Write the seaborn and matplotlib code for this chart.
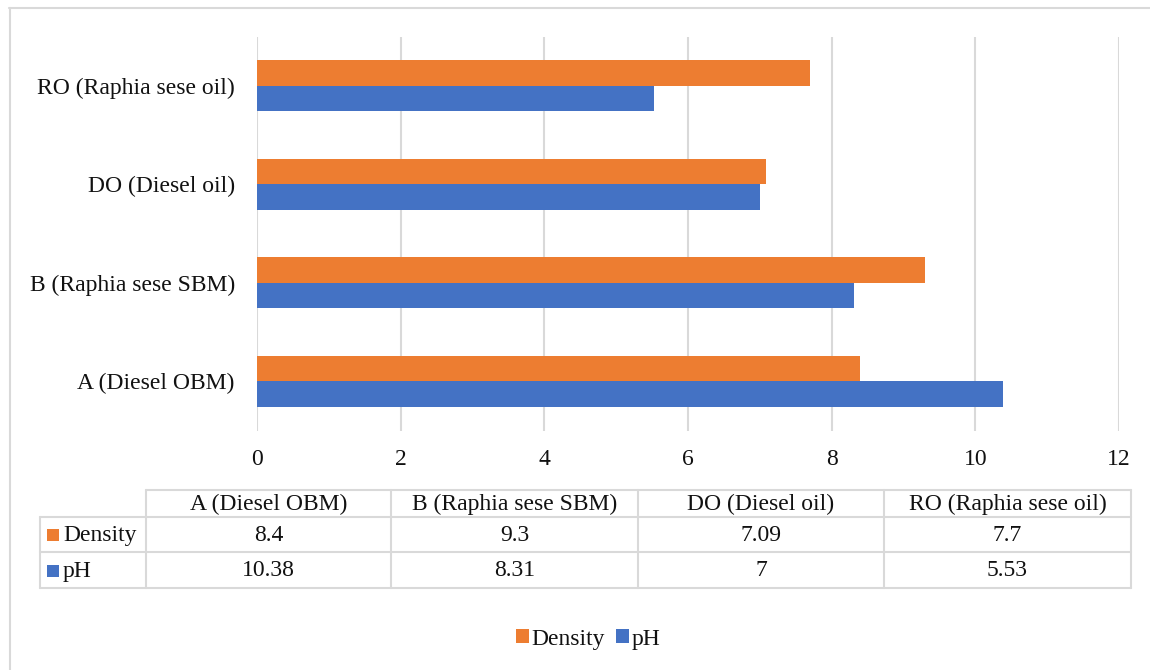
import matplotlib
matplotlib.use("Agg")
import matplotlib.pyplot as plt
import seaborn as sns
import pandas as pd
from matplotlib.patches import Rectangle
from matplotlib.lines import Line2D

categories = ["A (Diesel OBM)", "B (Raphia sese SBM)", "DO (Diesel oil)", "RO (Raphia sese oil)"]
density = [8.4, 9.3, 7.09, 7.7]
ph = [10.38, 8.31, 7, 5.53]
density_labels = ["8.4", "9.3", "7.09", "7.7"]
ph_labels = ["10.38", "8.31", "7", "5.53"]
series = ["Density", "pH"]
colors = {"Density": "#ED7D31", "pH": "#4472C4"}
xticks = [0, 2, 4, 6, 8, 10, 12]

sns.set_theme(style="white")
plt.rcParams["font.family"] = ["Liberation Serif", "DejaVu Serif"]

W, H = 1150, 670
fig = plt.figure(figsize=(W / 100, H / 100), dpi=100)

def fx(px):
    return px / W

def fy(py):
    return 1 - py / H

df = pd.DataFrame({
    "category": categories * 2,
    "value": density + ph,
    "series": ["Density"] * 4 + ["pH"] * 4,
})

fs = 17
tcol = "#111111"

ax = fig.add_axes([fx(257), fy(430.5), fx(1119) - fx(257), (430.5 - 36.5) / H])
sns.barplot(data=df, y="category", x="value", hue="series", order=categories[::-1],
            hue_order=series, palette=colors, orient="h", width=0.52, gap=0,
            saturation=1, ax=ax, legend=False, edgecolor="none", linewidth=0)
ax.set_xlim(0, 12)
ax.set_ylim(3.5, -0.5)
ax.set_xticks(xticks)
ax.set_xticklabels([str(t) for t in xticks])
ax.grid(axis="x", color="#D9D9D9", linewidth=1.5)
ax.grid(axis="y", visible=False)
ax.set_axisbelow(True)
for s in ax.spines.values():
    s.set_visible(False)
ax.set_xlabel("")
ax.set_ylabel("")
ax.tick_params(axis="x", length=0, pad=13, labelsize=fs, labelcolor=tcol)
ax.tick_params(axis="y", length=0, pad=16, labelsize=fs, labelcolor=tcol)

# outer border (top and left)
fig.add_artist(Line2D([fx(9), fx(1150)], [fy(7.5), fy(7.5)], color="#D9D9D9", lw=1.5))
fig.add_artist(Line2D([fx(9.5), fx(9.5)], [fy(7.5), fy(670)], color="#D9D9D9", lw=1.5))

# data table
tc = "#D9D9D9"
col_x = [40, 146, 391, 638, 884, 1131]
row_y = [490, 517, 552, 588]
lw = 1.5
fig.add_artist(Line2D([fx(col_x[1]), fx(col_x[-1])], [fy(row_y[0])] * 2, color=tc, lw=lw))
for yy in row_y[1:]:
    fig.add_artist(Line2D([fx(col_x[0]), fx(col_x[-1])], [fy(yy)] * 2, color=tc, lw=lw))
fig.add_artist(Line2D([fx(col_x[0])] * 2, [fy(row_y[1]), fy(row_y[-1])], color=tc, lw=lw))
for xx in col_x[1:]:
    fig.add_artist(Line2D([fx(xx)] * 2, [fy(row_y[0]), fy(row_y[-1])], color=tc, lw=lw))

for i, cat in enumerate(categories):
    cx = (col_x[i + 1] + col_x[i + 2]) / 2
    fig.text(fx(cx), fy((row_y[0] + row_y[1]) / 2 + 1), cat, ha="center", va="center", fontsize=fs, color=tcol)
    fig.text(fx(cx), fy((row_y[1] + row_y[2]) / 2 + 1), density_labels[i], ha="center", va="center", fontsize=fs, color=tcol)
    fig.text(fx(cx), fy((row_y[2] + row_y[3]) / 2 + 1), ph_labels[i], ha="center", va="center", fontsize=fs, color=tcol)

for j, (name, (ya, yb)) in enumerate(zip(series, [(row_y[1], row_y[2]), (row_y[2], row_y[3])])):
    yc = (ya + yb) / 2
    fig.add_artist(Rectangle((fx(47), fy(yc + 6.5)), fx(12), 12 / H, color=colors[name], lw=0))
    fig.text(fx(63), fy(yc + 1), name, ha="left", va="center", fontsize=fs, color=tcol)

# bottom legend
handles = [Rectangle((0, 0), 1, 1, color=colors[s], lw=0) for s in series]
leg = fig.legend(handles, series, loc="center", bbox_to_anchor=(fx(588), fy(639)), ncol=2,
                 frameon=False, fontsize=fs, handlelength=0.55, handleheight=0.55,
                 handletextpad=0.1, columnspacing=0.5)
for t in leg.get_texts():
    t.set_color(tcol)

fig.savefig("out.png", dpi=100)
